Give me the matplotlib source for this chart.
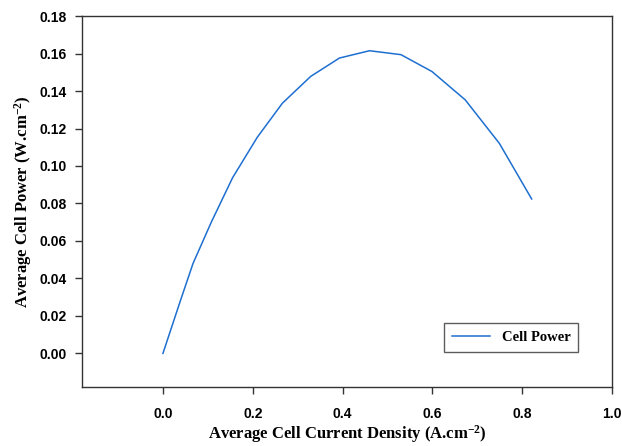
import matplotlib
matplotlib.use("Agg")
import matplotlib.pyplot as plt

plt.rcParams['mathtext.fontset'] = 'custom'
plt.rcParams['mathtext.rm'] = 'Liberation Serif:bold'
plt.rcParams['mathtext.bf'] = 'Liberation Serif:bold'
plt.rcParams['mathtext.it'] = 'Liberation Serif:bold'

# Current density (A/cm2) and power (W/cm2)
current = [0.0, 0.038, 0.067, 0.108, 0.155, 0.210, 0.266, 0.329, 0.393, 0.460, 0.530, 0.599, 0.673, 0.749, 0.821]
power = [0.0, 0.0275, 0.048, 0.0702, 0.0937, 0.1153, 0.1335, 0.1478, 0.1576, 0.1615, 0.1594, 0.1504, 0.1353, 0.1121, 0.0824]

xticks = [0.0, 0.2, 0.4, 0.6, 0.8, 1.0]
yticks = [0.00, 0.02, 0.04, 0.06, 0.08, 0.10, 0.12, 0.14, 0.16, 0.18]

fig = plt.figure(figsize=(6.22, 4.46), dpi=100)
ax = fig.add_axes([0.132, 0.132, 0.852, 0.832])

ax.plot(current, power, color='#1e6fd0', linewidth=1.1, label='Cell Power')

ax.set_xlim(-0.18, 1.0)
ax.set_ylim(-0.018, 0.18)
ax.set_xticks(xticks)
ax.set_yticks(yticks)
ax.set_xticklabels(['%.1f' % t for t in xticks])
ax.set_yticklabels(['%.2f' % t for t in yticks])

for lab in ax.get_xticklabels() + ax.get_yticklabels():
    lab.set_fontfamily('Liberation Sans')
    lab.set_fontweight('bold')
    lab.set_fontsize(10)

ax.tick_params(direction='out', length=5, width=1, color='#333333', pad=6)
ax.tick_params(axis='x', pad=9)
for s in ax.spines.values():
    s.set_color('#333333')
    s.set_linewidth(1.0)

serif = {'family': 'Liberation Serif', 'weight': 'bold', 'size': 12}
ax.set_xlabel('Average Cell Current Density (A.cm$^{-2}$)', fontdict=serif, labelpad=2)
ax.set_ylabel('Average Cell Power (W.cm$^{-2}$)', fontdict=serif, labelpad=4)

leg = ax.legend(loc='lower left', bbox_to_anchor=(0.683, 0.094, 0.253, 0.081), mode='expand',
                fancybox=False, edgecolor='#333333', borderaxespad=0,
                prop={'family': 'Liberation Serif', 'weight': 'bold', 'size': 10.5},
                handlelength=2.6, borderpad=0.55)
leg.get_frame().set_linewidth(1.0)

fig.savefig('out.png', dpi=100)
